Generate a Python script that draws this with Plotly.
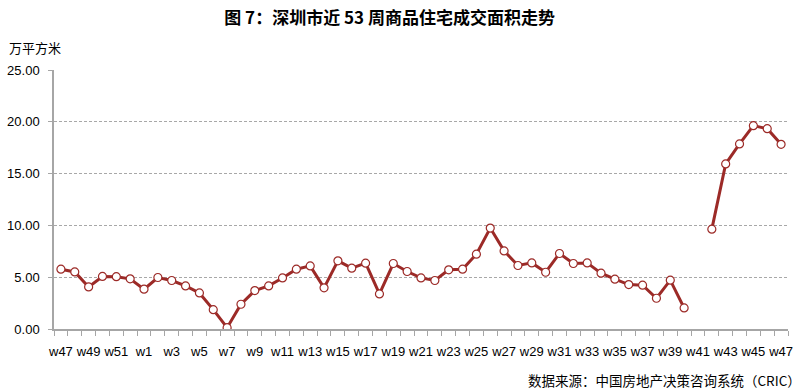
import plotly.graph_objects as go

weeks = ["w47", "w48", "w49", "w50", "w51", "w52",
         "w1", "w2", "w3", "w4", "w5", "w6", "w7", "w8", "w9", "w10",
         "w11", "w12", "w13", "w14", "w15", "w16", "w17", "w18", "w19", "w20",
         "w21", "w22", "w23", "w24", "w25", "w26", "w27", "w28", "w29", "w30",
         "w31", "w32", "w33", "w34", "w35", "w36", "w37", "w38", "w39", "w40",
         "w41", "w42", "w43", "w44", "w45", "w46", "w47"]
area = [5.77, 5.51, 4.06, 5.07, 5.05, 4.84,
        3.84, 4.97, 4.68, 4.16, 3.48, 1.87, 0.13, 2.39, 3.71, 4.16,
        4.93, 5.77, 6.09, 3.97, 6.58, 5.87, 6.35, 3.39, 6.32, 5.55,
        4.93, 4.68, 5.71, 5.77, 7.22, 9.74, 7.54, 6.13, 6.38, 5.48,
        7.29, 6.32, 6.38, 5.39, 4.81, 4.29, 4.23, 2.97, 4.71, 2.03,
        None, 9.64, 15.93, 17.86, 19.63, 19.34, 17.83]
y_ticks = [0, 5, 10, 15, 20, 25]

xs = list(range(len(weeks)))
tick_idx = xs[::2]
tick_txt = weeks[::2]

RED = "#9C2A27"
NUM_FONT = "Liberation Sans, Arial, sans-serif"
CJK_FONT = "Noto Sans CJK SC, sans-serif"

fig = go.Figure()
fig.add_trace(go.Scatter(
    x=xs, y=area, mode="lines+markers",
    line=dict(color=RED, width=3),
    marker=dict(symbol="circle", size=8, color="white",
                line=dict(color=RED, width=1.2)),
    connectgaps=False, showlegend=False, hoverinfo="y",
))

fig.update_layout(
    width=800, height=392,
    margin=dict(l=51, r=7, t=70, b=63),
    paper_bgcolor="white", plot_bgcolor="white",
    title=dict(text="<b>图 7：深圳市近 53 周商品住宅成交面积走势</b>",
               x=0.487, xanchor="center", y=0.955, yanchor="middle",
               font=dict(family=CJK_FONT, size=17, color="black")),
    xaxis=dict(
        range=[-0.5, len(weeks) - 0.5],
        tickmode="array", tickvals=tick_idx, ticktext=tick_txt,
        ticks="", showgrid=False, zeroline=False, ticklabelstandoff=10,
        showline=True, linecolor="#A6A6A6", linewidth=1.5,
        tickfont=dict(family=NUM_FONT, size=13, color="black"),
        minor=dict(tickmode="linear", tick0=-0.5, dtick=1,
                   ticks="outside", ticklen=5, tickcolor="#A6A6A6",
                   tickwidth=1, showgrid=False),
        fixedrange=True,
    ),
    yaxis=dict(
        range=[0, 25], tickmode="array", tickvals=y_ticks,
        tickformat=".2f", ticklabelstandoff=6,
        ticks="outside", ticklen=4, tickcolor="#A6A6A6",
        showline=True, linecolor="#A6A6A6", linewidth=1.5,
        showgrid=True, gridcolor="#A8A8A8", griddash="3px,2px", gridwidth=1,
        zeroline=False,
        tickfont=dict(family=NUM_FONT, size=13, color="black"),
        fixedrange=True,
    ),
)

fig.add_annotation(text="万平方米", xref="paper", yref="paper",
                   x=-48 / 742, y=(329 - 48) / 259, xanchor="left", yanchor="middle",
                   showarrow=False, font=dict(family=CJK_FONT, size=13, color="black"))
fig.add_annotation(text="数据来源：中国房地产决策咨询系统（CRIC）", xref="paper", yref="paper",
                   x=(808 - 51) / 742, y=(329 - 380) / 259, xanchor="right", yanchor="middle",
                   showarrow=False, font=dict(family=CJK_FONT, size=13.5, color="black"))

fig.write_html("out.html", config={"displayModeBar": False},
               post_script="document.body.style.margin='0px';document.body.style.padding='0px';")
